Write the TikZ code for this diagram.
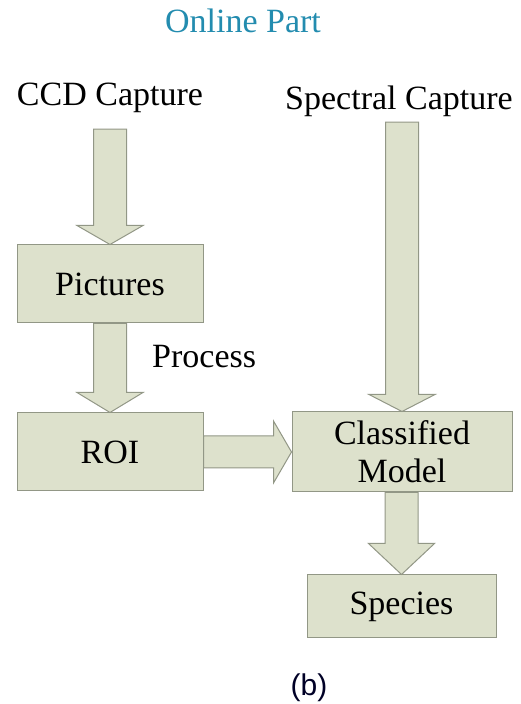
\documentclass[tikz,border=0pt]{standalone}
\usepackage{fontspec}
\setmainfont{Liberation Serif}
\newfontfamily\capfont{Liberation Sans}
\usetikzlibrary{calc}

\definecolor{boxfill}{RGB}{221,225,204}
\definecolor{boxline}{RGB}{146,151,134}
\definecolor{titleblue}{RGB}{35,140,175}

\begin{document}
\begin{tikzpicture}[x=1pt,y=1pt,font=\fontsize{34}{38}\selectfont,
  box node/.style={rectangle,draw=boxline,fill=boxfill,line width=1pt,align=center,inner sep=0pt},
  label node/.style={anchor=base,inner sep=0pt},
  fat down/.style 2 args={draw=boxline,fill=boxfill,line width=1pt,line join=miter,
    to path={let \p1=(\tikztostart), \p2=(\tikztotarget) in
      (\x2-16.5pt,\y1-#1) -- (\x2-16.5pt,\y2+#2) -- (\x2-33pt,\y2+#2) -- (\x2,\y2)
      -- (\x2+33pt,\y2+#2) -- (\x2+16.5pt,\y2+#2) -- (\x2+16.5pt,\y1-#1) -- cycle}},
  fat right/.style={draw=boxline,fill=boxfill,line width=1pt,line join=miter,
    to path={let \p1=(\tikztostart), \p2=(\tikztotarget) in
      (\x1,\y1+16pt) -- (\x2-18pt,\y1+16pt) -- (\x2-18pt,\y1+31pt) -- (\x2,\y1)
      -- (\x2-18pt,\y1-31pt) -- (\x2-18pt,\y1-16pt) -- (\x1,\y1-16pt) -- cycle}}]

  \useasboundingbox (0,0) rectangle (520,704);

  % headings
  \node[label node,text=titleblue] (online) at (243,671) {Online Part};
  \node[label node] (ccd) at (110,598) {CCD Capture};
  \node[label node] (spec) at (399,594) {Spectral Capture};

  % boxes
  \node[box node,minimum width=186pt,minimum height=78pt] (pic) at (110,420) {Pictures};
  \node[box node,minimum width=186pt,minimum height=78pt] (roi) at (110,252) {ROI};
  \node[box node,minimum width=220pt,minimum height=80pt] (cls) at (402,252) {Classified\\Model};
  \node[box node,minimum width=189pt,minimum height=63pt] (spc) at (401.5,97.5) {Species};

  \node[label node,anchor=base west] (proc) at (152,336) {Process};

  % arrows
  \path[fat down={15.6pt}{19pt}] (ccd.south) to (pic.north);
  \path[fat down={0pt}{20pt}] (pic.south) to (roi.north);
  \path[fat down={4.6pt}{17pt}] (spec.south) to (cls.north);
  \path[fat down={0pt}{31pt}] (cls.south) to (spc.north);
  \path[fat right] (roi.east) to (cls.west);

  \node[label node,font=\capfont\fontsize{30}{34}\selectfont,text=black!85!blue] (sub) at (309,9) {(b)};
\end{tikzpicture}
\end{document}
